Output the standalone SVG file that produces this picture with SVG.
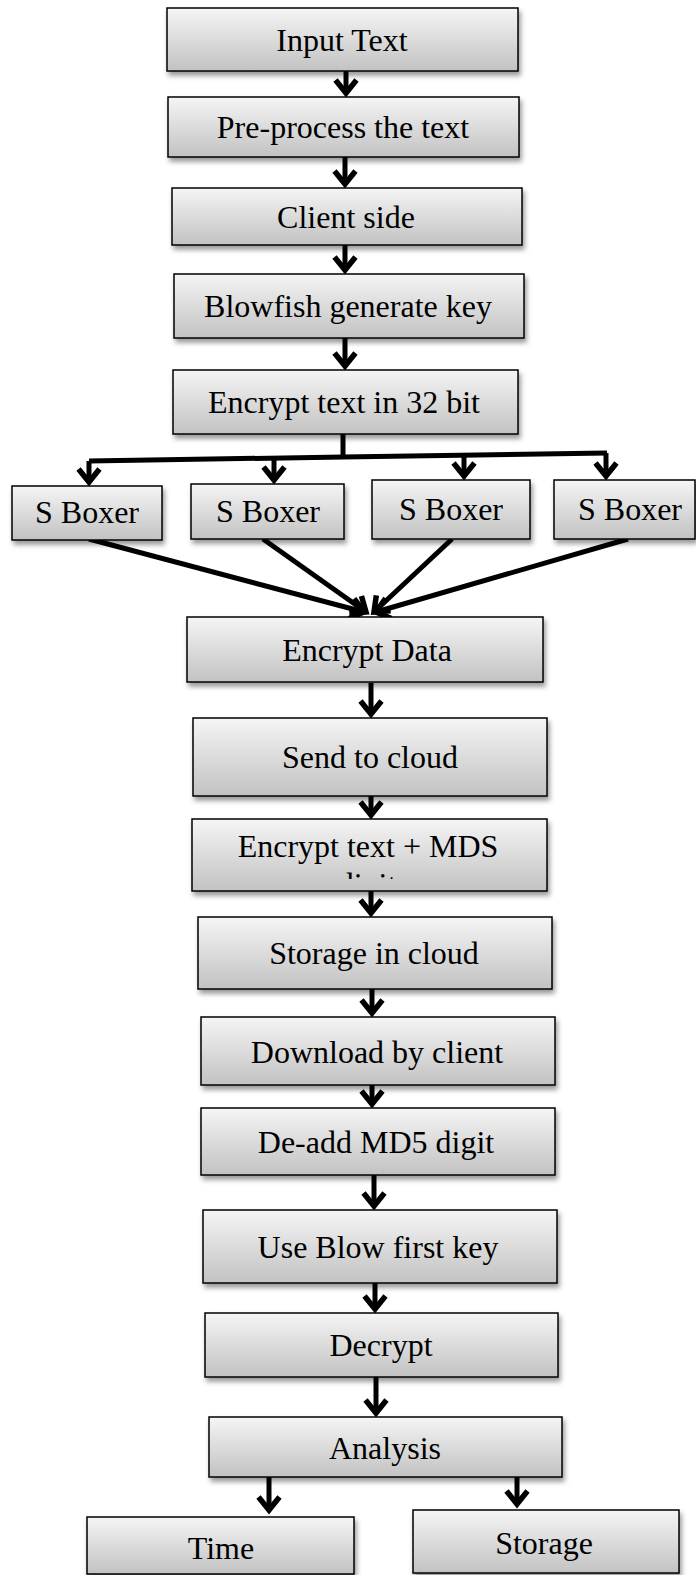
<svg xmlns="http://www.w3.org/2000/svg" width="696" height="1575" viewBox="0 0 696 1575">
<defs>
<linearGradient id="g" x1="0" y1="0" x2="0" y2="1">
<stop offset="0" stop-color="#f5f5f5"/>
<stop offset="1" stop-color="#c2c2c2"/>
</linearGradient>
<filter id="sh" x="-10%" y="-20%" width="125%" height="150%">
<feDropShadow dx="2" dy="4" stdDeviation="2.5" flood-color="#000" flood-opacity="0.4"/>
</filter>
<marker id="ah" markerUnits="userSpaceOnUse" viewBox="-4 -14 24 28" markerWidth="24" markerHeight="28" refX="13" refY="0" orient="auto" overflow="visible">
<path d="M0,-10.5 L13,0 L0,10.5" fill="none" stroke="#000" stroke-width="5.5" stroke-linejoin="miter"/>
</marker>
<clipPath id="clipMds"><rect x="192" y="819" width="355" height="60"/></clipPath>
</defs>
<style>
.box{fill:url(#g);stroke:#000;stroke-width:1.5;filter:url(#sh)}
.t{font-family:"Liberation Serif","Times New Roman",serif;font-size:32px;fill:#000;text-anchor:middle}
.c{fill:none;stroke:#000;stroke-width:5}
.a{marker-end:url(#ah)}
</style>
<g id="connectors">
<line class="c a" x1="346" y1="71" x2="346" y2="93"/>
<line class="c a" x1="345" y1="157" x2="345" y2="184"/>
<line class="c a" x1="345" y1="245" x2="345" y2="270"/>
<line class="c a" x1="345" y1="338" x2="345" y2="366"/>
<line class="c" x1="343" y1="434" x2="343" y2="457"/>
<polyline class="c" points="89,461 343,457 607,453"/>
<line class="c a" x1="89" y1="461" x2="89" y2="482"/>
<line class="c a" x1="274" y1="458" x2="274" y2="480"/>
<line class="c a" x1="464" y1="455" x2="464" y2="476"/>
<line class="c a" x1="606" y1="453" x2="606" y2="476"/>
<line class="c a" x1="89" y1="539" x2="364" y2="612"/>
<line class="c a" x1="263" y1="539" x2="366" y2="612"/>
<line class="c a" x1="452" y1="539" x2="374" y2="612"/>
<line class="c a" x1="628" y1="539" x2="376" y2="612"/>
<line class="c a" x1="371" y1="683" x2="371" y2="714"/>
<line class="c a" x1="371" y1="796" x2="371" y2="815"/>
<line class="c a" x1="371" y1="891" x2="371" y2="913"/>
<line class="c a" x1="372" y1="989" x2="372" y2="1013"/>
<line class="c a" x1="372" y1="1085" x2="372" y2="1104"/>
<line class="c a" x1="374" y1="1175" x2="374" y2="1206"/>
<line class="c a" x1="375" y1="1283" x2="375" y2="1309"/>
<line class="c a" x1="376" y1="1377" x2="376" y2="1413"/>
<line class="c a" x1="269" y1="1477" x2="269" y2="1510"/>
<line class="c a" x1="517" y1="1477" x2="517" y2="1504"/>
</g>
<g id="n1"><rect class="box" x="167" y="8" width="351" height="63"/><text class="t" x="342" y="51">Input Text</text></g>
<g id="n2"><rect class="box" x="168" y="97" width="351" height="60"/><text class="t" x="343" y="138">Pre-process the text</text></g>
<g id="n3"><rect class="box" x="172" y="188" width="350" height="57"/><text class="t" x="346" y="228">Client side</text></g>
<g id="n4"><rect class="box" x="174" y="274" width="350" height="64"/><text class="t" x="348" y="317">Blowfish generate key</text></g>
<g id="n5"><rect class="box" x="173" y="370" width="345" height="64"/><text class="t" x="344" y="413">Encrypt text in 32 bit</text></g>
<g id="s1"><rect class="box" x="12" y="486" width="150" height="54"/><text class="t" x="87" y="523">S Boxer</text></g>
<g id="s2"><rect class="box" x="191" y="484" width="153" height="55"/><text class="t" x="268" y="522">S Boxer</text></g>
<g id="s3"><rect class="box" x="372" y="480" width="158" height="59"/><text class="t" x="451" y="520">S Boxer</text></g>
<g id="s4"><rect class="box" x="554" y="480" width="141" height="59"/><text class="t" x="630" y="520">S Boxer</text></g>
<g id="n6"><rect class="box" x="187" y="617" width="356" height="65"/><text class="t" x="367" y="661">Encrypt Data</text></g>
<g id="n7"><rect class="box" x="193" y="718" width="354" height="78"/><text class="t" x="370" y="768">Send to cloud</text></g>
<g id="n8"><rect class="box" x="192" y="819" width="355" height="72"/><text class="t" x="368" y="857">Encrypt text + MDS</text><text class="t" x="367" y="895" clip-path="url(#clipMds)">digit</text></g>
<g id="n9"><rect class="box" x="198" y="917" width="354" height="72"/><text class="t" x="374" y="964">Storage in cloud</text></g>
<g id="n10"><rect class="box" x="201" y="1017" width="354" height="68"/><text class="t" x="377" y="1063">Download by client</text></g>
<g id="n11"><rect class="box" x="201" y="1108" width="354" height="67"/><text class="t" x="376" y="1153">De-add MD5 digit</text></g>
<g id="n12"><rect class="box" x="203" y="1210" width="354" height="73"/><text class="t" x="378" y="1258">Use Blow first key</text></g>
<g id="n13"><rect class="box" x="205" y="1313" width="353" height="64"/><text class="t" x="381" y="1356">Decrypt</text></g>
<g id="n14"><rect class="box" x="209" y="1417" width="353" height="60"/><text class="t" x="385" y="1459">Analysis</text></g>
<g id="n15"><rect class="box" x="87" y="1517" width="267" height="57"/><text class="t" x="221" y="1559">Time</text></g>
<g id="n16"><rect class="box" x="413" y="1510" width="266" height="63"/><text class="t" x="544" y="1554">Storage</text></g>
</svg>
